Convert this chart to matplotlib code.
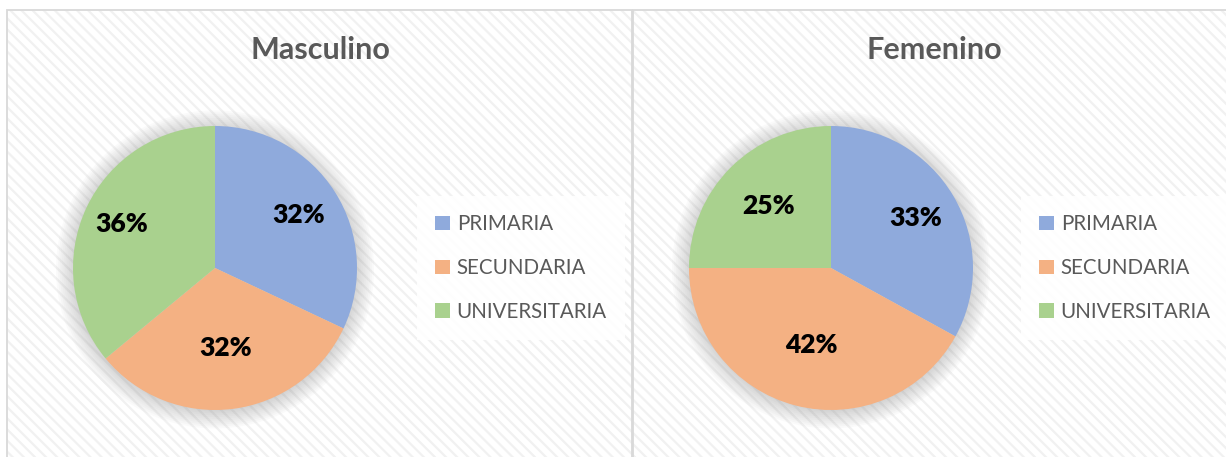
import numpy as np
import matplotlib.pyplot as plt
from matplotlib.patches import Rectangle, Circle

# data
categorias = ['PRIMARIA', 'SECUNDARIA', 'UNIVERSITARIA']
masculino = [32, 32, 36]
femenino = [33, 42, 25]
titulos = ['Masculino', 'Femenino']
colores = ['#8faadc', '#f4b183', '#a9d18e']

plt.rcParams['font.family'] = ['Lato', 'DejaVu Sans']
plt.rcParams['hatch.linewidth'] = 1.6

W, H = 1226, 457
fig = plt.figure(figsize=(W/100, H/100), dpi=100)
fig.patch.set_facecolor('white')

def fx(px): return px / W
def fy(py): return (H - py) / H

# panels (x0, x1 in pixels)
paneles = [(7, 632), (633, 1240)]
for x0, x1 in paneles:
    fondo = Rectangle((fx(x0), -0.1), fx(x1) - fx(x0), fy(10) + 0.1, transform=fig.transFigure,
                      facecolor='white', edgecolor='#f1f1f1', lw=0, hatch='\\\\\\', zorder=-3)
    fig.patches.append(fondo)
    borde = Rectangle((fx(x0), -0.1), fx(x1) - fx(x0), fy(10) + 0.1, transform=fig.transFigure,
                      fill=False, edgecolor='#d9d9d9', lw=1.3, zorder=-2)
    fig.patches.append(borde)

R = 142      # pie radius in px
lim = 1.3
centros = [(215, 268), (831, 268)]
leyendas = [(521, 268), (1125, 268)]
titulo_x = [320, 934]
# label distance from centre (fraction of radius), like Excel's best fit
dist_etiquetas = [[0.70, 0.57, 0.73], [0.69, 0.56, 0.62]]

for i, vals in enumerate([masculino, femenino]):
    cx, cy = centros[i]
    s = R * lim
    ax = fig.add_axes([fx(cx - s), fy(cy + s), 2*s/W, 2*s/H])
    ax.axis('off')
    ax.patch.set_alpha(0)

    # soft shadow around the pie
    for r in np.linspace(1.0, 1.12, 10):
        ax.add_patch(Circle((0, -0.01), r, color='#808080', alpha=0.035, lw=0, zorder=0))

    wedges, texts, autotexts = ax.pie(vals, colors=colores, startangle=90, counterclock=False,
                                      radius=1, autopct='%1.0f%%', pctdistance=0.7,
                                      textprops=dict(fontsize=19, fontweight='heavy', color='black'),
                                      wedgeprops=dict(linewidth=0))
    for w, t, d in zip(wedges, autotexts, dist_etiquetas[i]):
        w.set_zorder(2)
        t.set_zorder(3)
        ang = np.deg2rad((w.theta1 + w.theta2) / 2)
        t.set_position((d*np.cos(ang), d*np.sin(ang)))
    ax.set_xlim(-lim, lim)
    ax.set_ylim(-lim, lim)
    ax.set_aspect('equal', adjustable='box')

    fig.text(fx(titulo_x[i]), fy(50), titulos[i], ha='center', va='center',
             fontsize=22, fontweight='bold', color='#595959')

    lx, ly = leyendas[i]
    leg = fig.legend(wedges, categorias, loc='center', bbox_to_anchor=(fx(lx), fy(ly)),
                     bbox_transform=fig.transFigure, frameon=True, fontsize=14.8,
                     handlelength=0.7, handleheight=0.7, handletextpad=0.35,
                     labelspacing=1.15, borderpad=0.9, labelcolor='#595959')
    leg.get_frame().set_facecolor('white')
    leg.get_frame().set_edgecolor('none')
    leg.get_frame().set_alpha(0.9)
    leg.get_frame().set_boxstyle('square', pad=0)

fig.savefig('out.png', dpi=100)
